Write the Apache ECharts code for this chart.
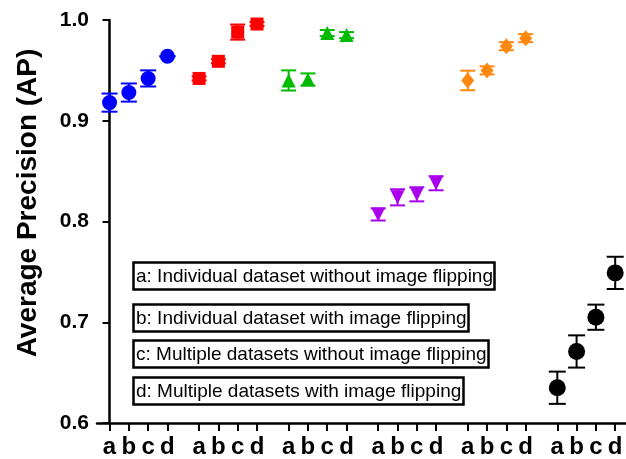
<!DOCTYPE html>
<html>
<head>
<meta charset="utf-8">
<script src="https://cdn.jsdelivr.net/npm/echarts@6/dist/echarts.min.js"></script>
<style>
  html, body { margin: 0; padding: 0; background: #fff; }
  #chart { width: 626px; height: 459px; }
</style>
</head>
<body>
<div id="chart"></div>
<script>
// categories / tick labels
const letters = ['a', 'b', 'c', 'd']
const legendLines = [
  'a: Individual dataset without image flipping',
  'b: Individual dataset with image flipping',
  'c: Multiple datasets without image flipping',
  'd: Multiple datasets with image flipping'
]

// mean AP and error (+/-) per group
const blueMean = [0.918, 0.928, 0.942, 0.964]
const blueErr = [0.009, 0.009, 0.008, 0.0]
const redMean = [0.942, 0.959, 0.988, 0.996]
const redErr = [0.002, 0.002, 0.0075, 0.002]
const greenMean = [0.940, 0.941, 0.987, 0.985]
const greenErr = [0.010, 0.006, 0.003, 0.003]
const purpleMean = [0.807, 0.824, 0.827, 0.838]
const purpleErr = [0.006, 0.008, 0.007, 0.007]
const orangeMean = [0.940, 0.950, 0.974, 0.982]
const orangeErr = [0.0097, 0.004, 0.004, 0.004]
const blackMean = [0.635, 0.671, 0.705, 0.749]
const blackErr = [0.016, 0.016, 0.0125, 0.016]

const groups = [
  { mean: blueMean, err: blueErr, color: '#0000ff', symbol: 'circle', size: 15, cap: 16 },
  { mean: redMean, err: redErr, color: '#ff0000', symbol: 'rect', size: 13, cap: 15 },
  { mean: greenMean, err: greenErr, color: '#00bb00', symbol: 'triangle', size: 14, cap: 15 },
  { mean: purpleMean, err: purpleErr, color: '#aa00ee', symbol: 'triangle', size: 14, cap: 15, rotate: 180 },
  { mean: orangeMean, err: orangeErr, color: '#ff8811', symbol: 'diamond', size: [13, 16], cap: 15 },
  { mean: blackMean, err: blackErr, color: '#000000', symbol: 'circle', size: 17, cap: 17 }
]

const groupStep = 4.64 // spacing between groups, in units of one letter
const font = 'Liberation Sans, Arial, Helvetica, sans-serif'

const tickPos = []
groups.forEach((g, gi) => letters.forEach((l, i) => tickPos.push(gi * groupStep + i)))

function letterAt(v) {
  const k = tickPos.findIndex(p => Math.abs(p - v) < 1e-6)
  return k < 0 ? '' : letters[k % 4]
}

const series = []
groups.forEach((g, gi) => {
  const xs = letters.map((l, i) => gi * groupStep + i)
  series.push({
    type: 'custom',
    z: 1,
    data: xs.map((x, i) => [x, g.mean[i] - g.err[i], g.mean[i] + g.err[i]]),
    renderItem: function (params, api) {
      const x = api.value(0)
      const top = api.coord([x, api.value(2)])
      const bot = api.coord([x, api.value(1)])
      const hw = g.cap / 2
      const st = { stroke: g.color, lineWidth: 2 }
      return {
        type: 'group',
        children: [
          { type: 'line', shape: { x1: top[0], y1: top[1], x2: bot[0], y2: bot[1] }, style: st },
          { type: 'line', shape: { x1: top[0] - hw, y1: top[1], x2: top[0] + hw, y2: top[1] }, style: st },
          { type: 'line', shape: { x1: bot[0] - hw, y1: bot[1], x2: bot[0] + hw, y2: bot[1] }, style: st }
        ]
      }
    }
  })
  series.push({
    type: 'scatter',
    z: 2,
    symbol: g.symbol,
    symbolSize: g.size,
    symbolRotate: g.rotate || 0,
    itemStyle: { color: g.color, opacity: 1 },
    data: xs.map((x, i) => [x, g.mean[i]])
  })
})

const chart = echarts.init(document.getElementById('chart'))

chart.setOption({
  animation: false,
  backgroundColor: '#fff',
  grid: { left: 97, right: 0, top: 20, bottom: 34 },
  xAxis: {
    type: 'value',
    min: -0.65,
    max: 26.76,
    splitLine: { show: false },
    axisLine: { onZero: false, lineStyle: { color: '#000', width: 2.5 } },
    axisTick: { show: true, customValues: tickPos, length: 8, lineStyle: { color: '#000', width: 2 } },
    axisLabel: {
      show: true,
      customValues: tickPos,
      formatter: letterAt,
      showMinLabel: true,
      showMaxLabel: true,
      hideOverlap: false,
      color: '#000',
      fontFamily: font,
      fontWeight: 'bold',
      fontSize: 24,
      margin: 12
    }
  },
  yAxis: {
    type: 'value',
    min: 0.6,
    max: 1.0,
    interval: 0.1,
    splitLine: { show: false },
    axisLine: { show: true, lineStyle: { color: '#000', width: 2.5 } },
    axisTick: { show: true, length: 7, lineStyle: { color: '#000', width: 2 } },
    axisLabel: {
      formatter: function (v) { return v.toFixed(1) },
      color: '#000',
      fontFamily: font,
      fontWeight: 'bold',
      fontSize: 21,
      margin: 8
    }
  },
  title: legendLines.map((t, i) => ({
    text: t,
    left: 133,
    top: [262, 304, 340, 377][i],
    padding: [5, 2, 4, 3],
    borderColor: '#000',
    borderWidth: 2.5,
    backgroundColor: '#fff',
    textStyle: { color: '#000', fontFamily: font, fontWeight: 'normal', fontSize: 19 }
  })),
  graphic: [{
    type: 'text',
    x: 28,
    y: 203,
    rotation: Math.PI / 2,
    style: {
      text: 'Average Precision (AP)',
      fill: '#000',
      font: 'bold 28px ' + font,
      align: 'center',
      verticalAlign: 'middle'
    }
  }],
  series: series
})
</script>
</body>
</html>
